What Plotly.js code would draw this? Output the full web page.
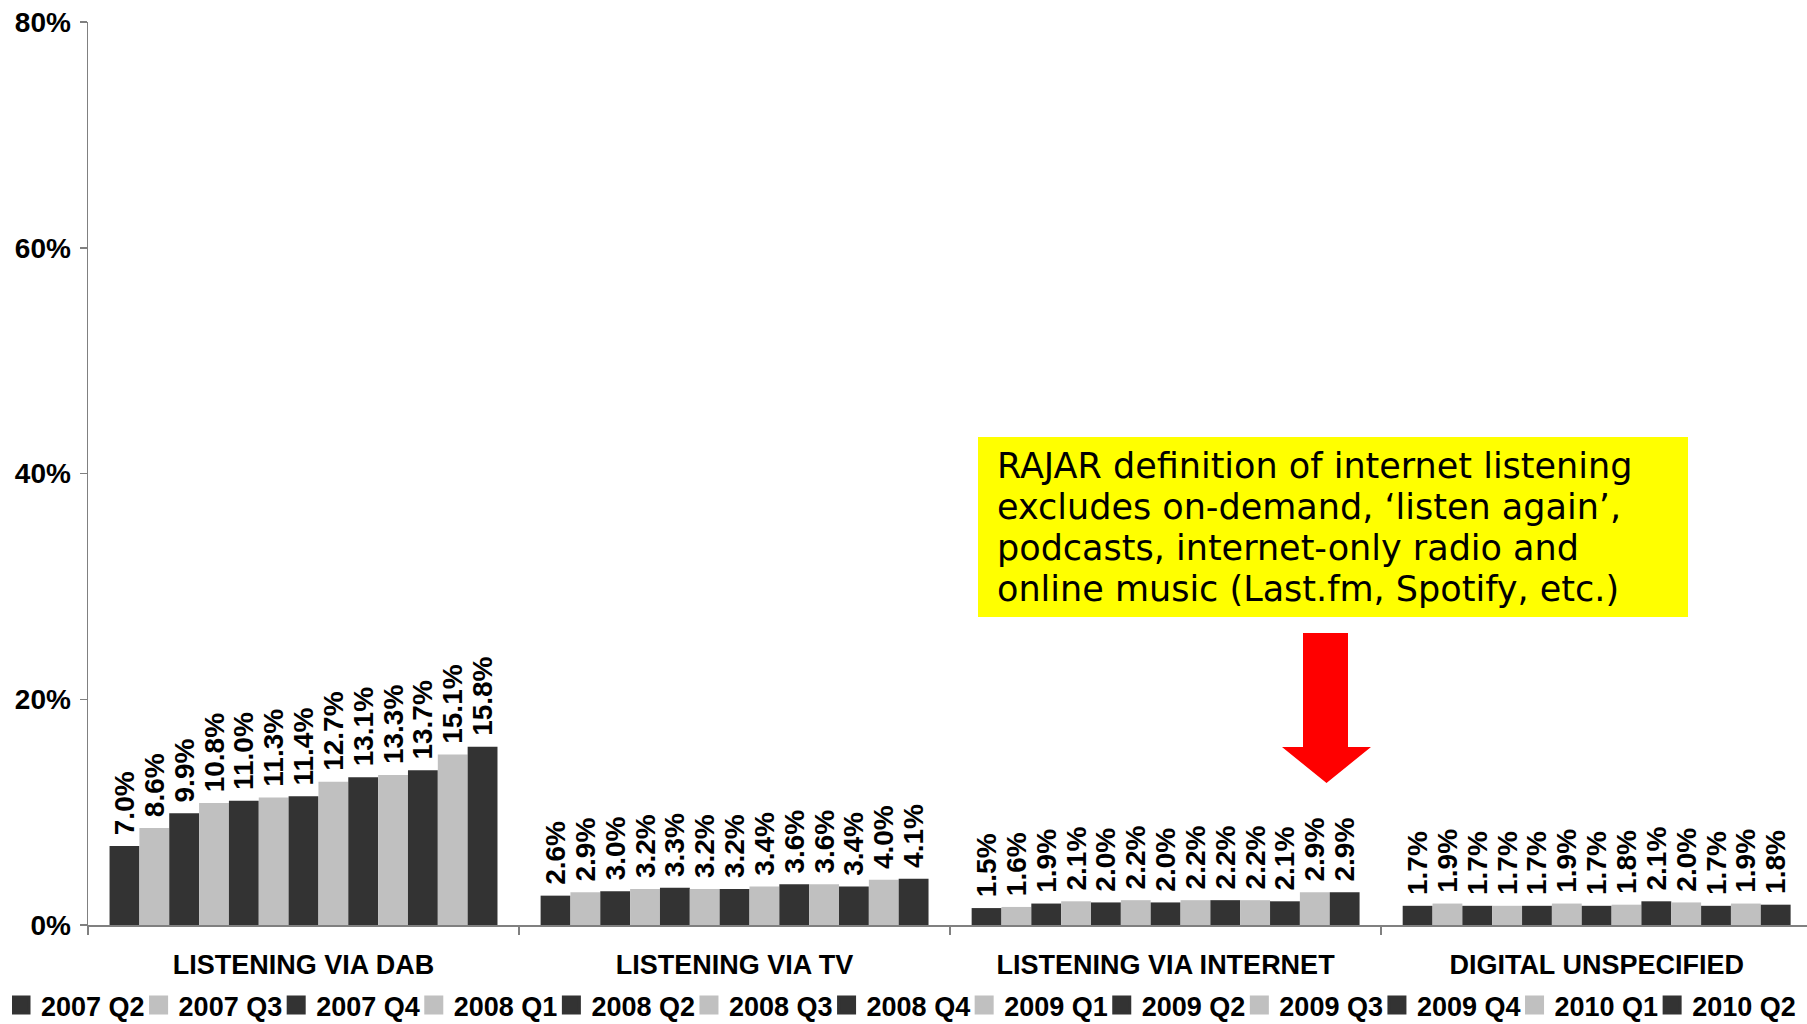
<!DOCTYPE html>
<html>
<head>
<meta charset="utf-8">
<script src="https://cdn.plot.ly/plotly-3.0.1.min.js"></script>
<style>html,body{margin:0;padding:0;background:#fff;}#chart{width:1807px;height:1024px;}</style>
</head>
<body>
<div id="chart"></div>
<script>
// ---- data ----
const quarters = ['2007 Q2','2007 Q3','2007 Q4','2008 Q1','2008 Q2','2008 Q3','2008 Q4','2009 Q1','2009 Q2','2009 Q3','2009 Q4','2010 Q1','2010 Q2'];
const categories = ['LISTENING VIA DAB','LISTENING VIA TV','LISTENING VIA INTERNET','DIGITAL UNSPECIFIED'];
const dab = [7.0, 8.6, 9.9, 10.8, 11.0, 11.3, 11.4, 12.7, 13.1, 13.3, 13.7, 15.1, 15.8];
const tv = [2.6, 2.9, 3.0, 3.2, 3.3, 3.2, 3.2, 3.4, 3.6, 3.6, 3.4, 4.0, 4.1];
const internet = [1.5, 1.6, 1.9, 2.1, 2.0, 2.2, 2.0, 2.2, 2.2, 2.2, 2.1, 2.9, 2.9];
const unspecified = [1.7, 1.9, 1.7, 1.7, 1.7, 1.9, 1.7, 1.8, 2.1, 2.0, 1.7, 1.9, 1.8];
const yTicks = [0, 20, 40, 60, 80];
const noteLines = [
  'RAJAR definition of internet listening',
  'excludes on-demand, \u2018listen again\u2019,',
  'podcasts, internet-only radio and',
  'online music (Last.fm, Spotify, etc.)'
];

// ---- style ----
const DARK = '#333333', LIGHT = '#C0C0C0';
const FONT = 'Liberation Sans, Arial, Helvetica, sans-serif';
const NOTE_FONT = 'DejaVu Sans, sans-serif';
const W = 1807, H = 1024, L = 88, T = 22, B = 99, R = 0;
const PW = W - L - R, PH = H - T - B;
const px2x = p => (p - L) / PW;
const px2y = p => (T + PH - p) / PH;
const colorOf = i => (i % 2 === 0 ? DARK : LIGHT);

const barTraces = quarters.map((q, i) => ({
  type: 'bar',
  name: q,
  legendgroup: q,
  showlegend: false,
  x: categories,
  y: [dab[i], tv[i], internet[i], unspecified[i]],
  marker: {color: colorOf(i), line: {width: 0}},
  texttemplate: '\u00a0%{y:.1f}%',
  textposition: 'outside',
  textangle: -90,
  constraintext: 'none',
  cliponaxis: false,
  textfont: {family: FONT, size: 28, weight: 'bold', color: '#000'},
  hoverinfo: 'name+y'
}));

// legend keys (square swatches) for each quarter
const legendTraces = quarters.map((q, i) => ({
  type: 'scatter', mode: 'markers',
  name: q, legendgroup: q, showlegend: true,
  x: [null], y: [null],
  marker: {symbol: 'square', size: 16, color: colorOf(i), line: {width: 3, color: colorOf(i)}},
  hoverinfo: 'skip'
}));

const arrowPts = [[1303,633],[1348,633],[1348,747],[1371,747],[1326.5,783],[1282,747],[1303,747]];
const arrowPath = 'M' + arrowPts.map(p => px2x(p[0]).toFixed(5) + ',' + px2y(p[1]).toFixed(5)).join(' L') + ' Z';

const noteAnnotations = noteLines.map((line, k) => ({
  xref: 'paper', yref: 'paper', x: px2x(995), y: px2y(465.5 + 41 * k),
  xanchor: 'left', yanchor: 'middle', align: 'left', showarrow: false,
  text: line,
  font: {family: NOTE_FONT, size: 35, color: '#000'}
}));

const layout = {
  width: W, height: H,
  margin: {l: L, r: R, t: T, b: B, autoexpand: false},
  paper_bgcolor: '#fff', plot_bgcolor: '#fff',
  barmode: 'group', bargap: 0.1, bargroupgap: 0,
  showlegend: true,
  font: {family: FONT, color: '#000'},
  xaxis: {
    type: 'category', range: [-0.5, 3.488],
    showline: true, linecolor: '#808080', linewidth: 1.5,
    ticks: 'outside', tickson: 'boundaries', ticklen: 8, tickcolor: '#808080', tickwidth: 1.5,
    ticklabelstandoff: 15,
    tickfont: {family: FONT, size: 27, weight: 'bold', color: '#000'},
    showgrid: false, zeroline: false, fixedrange: true
  },
  yaxis: {
    range: [0, 80], tickvals: yTicks, ticktext: yTicks.map(v => v + '%'),
    showline: true, linecolor: '#808080', linewidth: 1.5,
    ticks: 'outside', ticklen: 7, tickcolor: '#808080', tickwidth: 1.5,
    ticklabelstandoff: 3,
    tickfont: {family: FONT, size: 28, weight: 'bold', color: '#000'},
    showgrid: false, zeroline: false, fixedrange: true
  },
  legend: {
    orientation: 'h', x: (12 - L) / PW, xanchor: 'left', y: px2y(981), yanchor: 'top',
    indentation: -11,
    font: {family: FONT, size: 27, weight: 'bold', color: '#000'},
    traceorder: 'normal',
    bgcolor: 'rgba(0,0,0,0)'
  },
  shapes: [
    {type: 'rect', xref: 'paper', yref: 'paper', x0: px2x(978), x1: px2x(1688), y0: px2y(617), y1: px2y(437),
     fillcolor: '#FFFF00', line: {width: 0}, layer: 'above'},
    {type: 'path', xref: 'paper', yref: 'paper', path: arrowPath, fillcolor: '#FF0000', line: {width: 0}, layer: 'above'}
  ],
  annotations: noteAnnotations
};

Plotly.newPlot('chart', barTraces.concat(legendTraces), layout, {displayModeBar: false, staticPlot: true});
</script>
</body>
</html>
